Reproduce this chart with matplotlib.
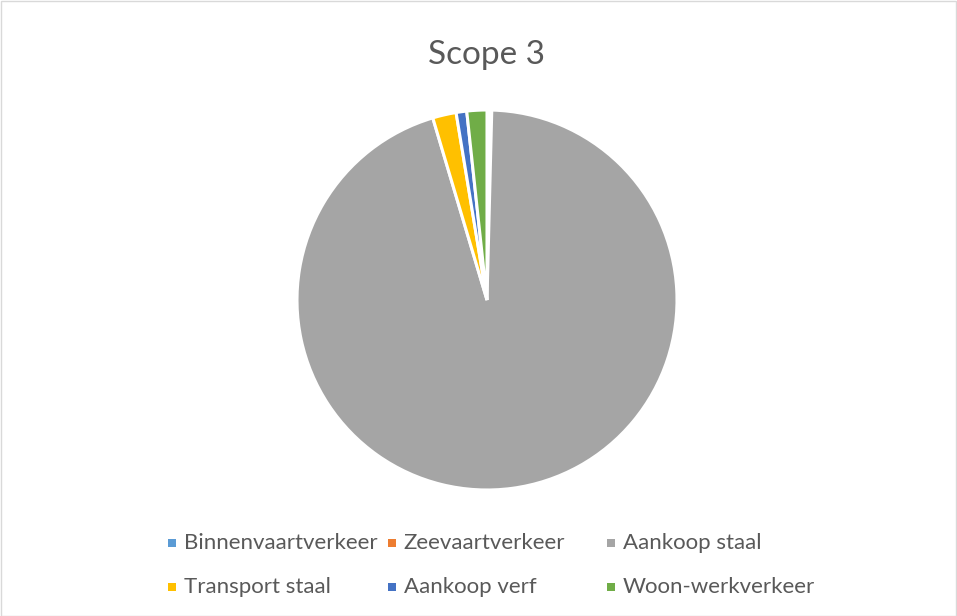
import matplotlib
matplotlib.use('Agg')
import matplotlib.pyplot as plt
from matplotlib.patches import Rectangle

# data
categorieen = ['Binnenvaartverkeer', 'Zeevaartverkeer', 'Aankoop staal',
               'Transport staal', 'Aankoop verf', 'Woon-werkverkeer']
aandeel = [0.2, 0.2, 94.9, 2.0, 0.9, 1.7]
kleuren = ['#5B9BD5', '#ED7D31', '#A5A5A5', '#FFC000', '#4472C4', '#70AD47']

plt.rcParams['font.family'] = ['Lato', 'DejaVu Sans']

W, H = 957, 616
fig = plt.figure(figsize=(W / 100, H / 100), dpi=100)
fig.patch.set_facecolor('white')

# kader rond de grafiek
fig.add_artist(Rectangle((0.5 / W, 0.5 / H), 1 - 1.5 / W, 1 - 1.5 / H,
                         transform=fig.transFigure, fill=False,
                         edgecolor='#D9D9D9', linewidth=1))

# taart
cx, cy, r = 487, 300, 190
ax = fig.add_axes([(cx - r) / W, (H - cy - r) / H, 2 * r / W, 2 * r / H])
ax.pie(aandeel, colors=kleuren, startangle=90, counterclock=False,
       wedgeprops=dict(edgecolor='white', linewidth=2.2))
ax.set_xlim(-1.0, 1.0)
ax.set_ylim(-1.0, 1.0)

fig.text(cx / W, 1 - 55 / H, 'Scope 3', ha='center', va='center',
         fontsize=24, color='#595959')

# legenda
for i, (lab, kl) in enumerate(zip(categorieen, kleuren)):
    rij, kol = i // 3, i % 3
    x = 168 + 219.5 * kol
    y = 543 + 44 * rij
    fig.add_artist(Rectangle((x / W, 1 - (y + 4) / H), 8 / W, 8 / H,
                             transform=fig.transFigure, facecolor=kl,
                             edgecolor='none'))
    fig.text((x + 16) / W, 1 - y / H, lab, ha='left', va='center',
             fontsize=16, color='#595959')

fig.savefig('out.png', dpi=100, facecolor='white')
